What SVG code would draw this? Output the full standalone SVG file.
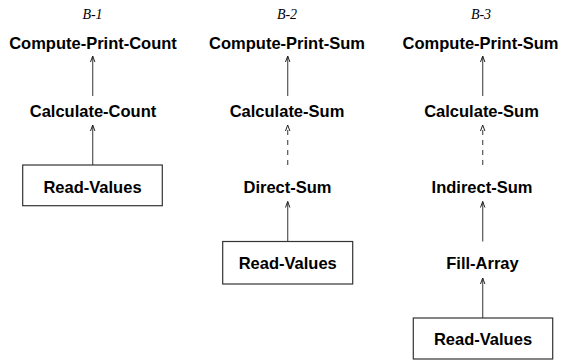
<svg xmlns="http://www.w3.org/2000/svg" width="562" height="360" viewBox="0 0 562 360">
  <style>
    .lbl { font-family: "Liberation Sans", Arial, sans-serif; font-weight: bold; font-size: 16.5px; fill: #000; text-anchor: middle; }
    .cap { font-family: "Liberation Serif", "Times New Roman", serif; font-style: italic; font-size: 14px; fill: #000; text-anchor: middle; }
    .box { fill: #fff; stroke: #333; stroke-width: 1.2; }
    .edge { stroke: #555; stroke-width: 1.2; fill: none; marker-end: url(#open); }
    .dash { stroke-dasharray: 5 5; }
  </style>
  <defs>
    <marker id="open" viewBox="-7 -4 8 8" refX="0" refY="0" markerWidth="8" markerHeight="8" markerUnits="userSpaceOnUse" orient="auto">
      <path d="M-6,-2.2 L0,0 L-6,2.2" fill="none" stroke="#222" stroke-width="1"/>
    </marker>
  </defs>
  <rect width="562" height="360" fill="#fff"/>

  <!-- column captions -->
  <text class="cap" x="92.5" y="18.5">B-1</text>
  <text class="cap" x="287" y="18.5">B-2</text>
  <text class="cap" x="481" y="18.5">B-3</text>

  <!-- connectors -->
  <g id="connectors">
    <line class="edge" x1="92.7" y1="96" x2="92.7" y2="56"/>
    <line class="edge" x1="92.7" y1="165" x2="92.7" y2="125"/>
    <line class="edge" x1="287.7" y1="96" x2="287.7" y2="56"/>
    <line class="edge dash" x1="287.7" y1="165" x2="287.7" y2="125"/>
    <line class="edge" x1="287.7" y1="241.5" x2="287.7" y2="201.5"/>
    <line class="edge" x1="482.7" y1="96" x2="482.7" y2="56"/>
    <line class="edge dash" x1="482.7" y1="165" x2="482.7" y2="125"/>
    <line class="edge" x1="482.7" y1="241.5" x2="482.7" y2="201.5"/>
    <line class="edge" x1="482.7" y1="318" x2="482.7" y2="278"/>
  </g>

  <!-- B-1 -->
  <g id="b1-compute-print-count"><text class="lbl" x="93" y="49">Compute-Print-Count</text></g>
  <g id="b1-calculate-count"><text class="lbl" x="93" y="116.7">Calculate-Count</text></g>
  <g id="b1-read-values">
    <rect class="box" x="22.7" y="165" width="139.6" height="40.7"/>
    <text class="lbl" x="92.5" y="192.7">Read-Values</text>
  </g>

  <!-- B-2 -->
  <g id="b2-compute-print-sum"><text class="lbl" x="287" y="49">Compute-Print-Sum</text></g>
  <g id="b2-calculate-sum"><text class="lbl" x="287" y="116.7">Calculate-Sum</text></g>
  <g id="b2-direct-sum"><text class="lbl" x="287.5" y="193">Direct-Sum</text></g>
  <g id="b2-read-values">
    <rect class="box" x="222.7" y="241.5" width="130" height="42.5"/>
    <text class="lbl" x="287.7" y="269.3">Read-Values</text>
  </g>

  <!-- B-3 -->
  <g id="b3-compute-print-sum"><text class="lbl" x="480.5" y="49">Compute-Print-Sum</text></g>
  <g id="b3-calculate-sum"><text class="lbl" x="481.5" y="116.7">Calculate-Sum</text></g>
  <g id="b3-indirect-sum"><text class="lbl" x="482" y="193">Indirect-Sum</text></g>
  <g id="b3-fill-array"><text class="lbl" x="482.5" y="269.3">Fill-Array</text></g>
  <g id="b3-read-values">
    <rect class="box" x="413.3" y="318" width="139.4" height="41"/>
    <text class="lbl" x="483" y="345">Read-Values</text>
  </g>
</svg>
